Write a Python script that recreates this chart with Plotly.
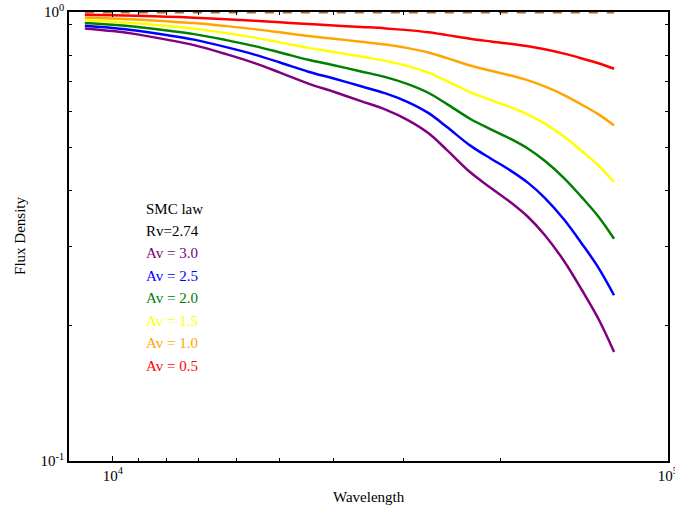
import plotly.graph_objects as go

# ---- data ----
wavelength = [8900, 10000, 11000, 12500, 14000, 16000, 18000, 20000, 22500, 25000,
              28000, 31000, 34000, 37000, 40000, 44000, 48000, 52000, 56000, 60000,
              65000, 70000, 75000, 80000]

flux_av05 = [0.9862, 0.9839, 0.9814, 0.9768, 0.9722, 0.9647, 0.9573, 0.9496, 0.9407, 0.9341,
             0.9268, 0.9200, 0.9118, 0.9017, 0.8887, 0.8722, 0.8603, 0.8501, 0.8393, 0.8265,
             0.8083, 0.7885, 0.7692, 0.7478]
flux_av10 = [0.9725, 0.9680, 0.9631, 0.9541, 0.9452, 0.9307, 0.9165, 0.9017, 0.8850, 0.8726,
             0.8589, 0.8465, 0.8314, 0.8132, 0.7899, 0.7607, 0.7402, 0.7227, 0.7044, 0.6830,
             0.6533, 0.6217, 0.5917, 0.5592]
flux_av15 = [0.9591, 0.9524, 0.9451, 0.9319, 0.9189, 0.8979, 0.8774, 0.8563, 0.8325, 0.8152,
             0.7960, 0.7788, 0.7581, 0.7333, 0.7020, 0.6635, 0.6368, 0.6144, 0.5912, 0.5645,
             0.5281, 0.4902, 0.4551, 0.4182]
flux_av20 = [0.9458, 0.9371, 0.9275, 0.9103, 0.8933, 0.8662, 0.8400, 0.8132, 0.7832, 0.7615,
             0.7377, 0.7165, 0.6913, 0.6612, 0.6239, 0.5787, 0.5479, 0.5223, 0.4962, 0.4665,
             0.4269, 0.3866, 0.3501, 0.3127]
flux_av25 = [0.9327, 0.9220, 0.9103, 0.8891, 0.8685, 0.8357, 0.8042, 0.7722, 0.7367, 0.7113,
             0.6836, 0.6592, 0.6303, 0.5962, 0.5545, 0.5047, 0.4714, 0.4440, 0.4164, 0.3856,
             0.3450, 0.3048, 0.2693, 0.2339]
flux_av30 = [0.9199, 0.9072, 0.8933, 0.8685, 0.8443, 0.8062, 0.7700, 0.7333, 0.6930, 0.6645,
             0.6335, 0.6065, 0.5747, 0.5377, 0.4928, 0.4402, 0.4055, 0.3774, 0.3495, 0.3187,
             0.2789, 0.2403, 0.2071, 0.1749]

ref_x = [8900, 80000]
ref_y = [1.0, 1.0]

series_names = ["Av = 3.0", "Av = 2.5", "Av = 2.0", "Av = 1.5", "Av = 1.0", "Av = 0.5"]
series_values = [flux_av30, flux_av25, flux_av20, flux_av15, flux_av10, flux_av05]
series_colors = ["#800080", "#0000ff", "#008000", "#ffff00", "#ffa500", "#ff0000"]

x_major = [1e4, 1e5]
x_major_text = ["10<sup>4</sup>", "10<sup>5</sup>"]
x_minor = [11111.1, 12500, 14285.7, 16666.7, 20000, 25000, 33333.3, 50000]
y_major = [0.1, 1.0]
y_major_text = ["10<sup>-1</sup>", "10<sup>0</sup>"]
y_minor = [0.2, 0.3, 0.4, 0.5, 0.6, 0.7, 0.8, 0.94]

FONT = "Liberation Serif, Times New Roman, serif"

fig = go.Figure()
fig.add_trace(go.Scatter(x=ref_x, y=ref_y, mode="lines",
                         line=dict(color="#b06a2c", width=2.5, dash="dash"),
                         showlegend=False, hoverinfo="skip"))
for name, vals, col in zip(series_names, series_values, series_colors):
    fig.add_trace(go.Scatter(x=wavelength, y=vals, mode="lines", name=name,
                             line=dict(color=col, width=2.5, shape="spline", smoothing=1.0),
                             showlegend=False))

# text block
texts = ["SMC law", "Rv=2.74"] + series_names
colors = ["black", "black"] + series_colors
ypos = [0.561, 0.512, 0.463, 0.412, 0.363, 0.312, 0.263, 0.212]
annotations = []
for t, c, yp in zip(texts, colors, ypos):
    annotations.append(dict(text=t, x=0.125, y=yp, xref="paper", yref="paper",
                            xanchor="left", yanchor="middle", showarrow=False,
                            font=dict(family=FONT, size=15, color=c)))
annotations.append(dict(text="Wavelength", x=0.5, y=-0.080, xref="paper", yref="paper",
                        xanchor="center", yanchor="middle", showarrow=False,
                        font=dict(family=FONT, size=15, color="black")))
annotations.append(dict(text="Flux Density", x=-0.082, y=0.501, xref="paper", yref="paper",
                        xanchor="center", yanchor="middle", showarrow=False, textangle=-90,
                        font=dict(family=FONT, size=15, color="black")))

axis_common = dict(showline=True, linecolor="black", linewidth=1.5, mirror="ticks",
                   ticks="inside", ticklen=5, tickwidth=1, tickcolor="black",
                   showgrid=False, zeroline=False, automargin=False,
                   ticklabeloverflow="allow",
                   tickfont=dict(family=FONT, size=15, color="black"))

fig.update_layout(
    width=675, height=512,
    margin=dict(l=69, r=7, t=12, b=51),
    paper_bgcolor="white", plot_bgcolor="white",
    annotations=annotations,
    xaxis=dict(type="log", range=[3.92082, 5.0003], tickmode="array",
               tickvals=x_major, ticktext=x_major_text,
               minor=dict(tickmode="array", tickvals=x_minor, ticks="inside",
                          ticklen=3, tickwidth=1, tickcolor="black", showgrid=False),
               **axis_common),
    yaxis=dict(type="log", range=[-1.0003, 0.0003], tickmode="array",
               tickvals=y_major, ticktext=y_major_text,
               minor=dict(tickmode="array", tickvals=y_minor, ticks="inside",
                          ticklen=3, tickwidth=1, tickcolor="black", showgrid=False),
               **axis_common),
)

fig.write_html("out.html", config={"displayModeBar": False},
               post_script="document.body.style.margin='0';document.body.style.overflow='hidden';")
